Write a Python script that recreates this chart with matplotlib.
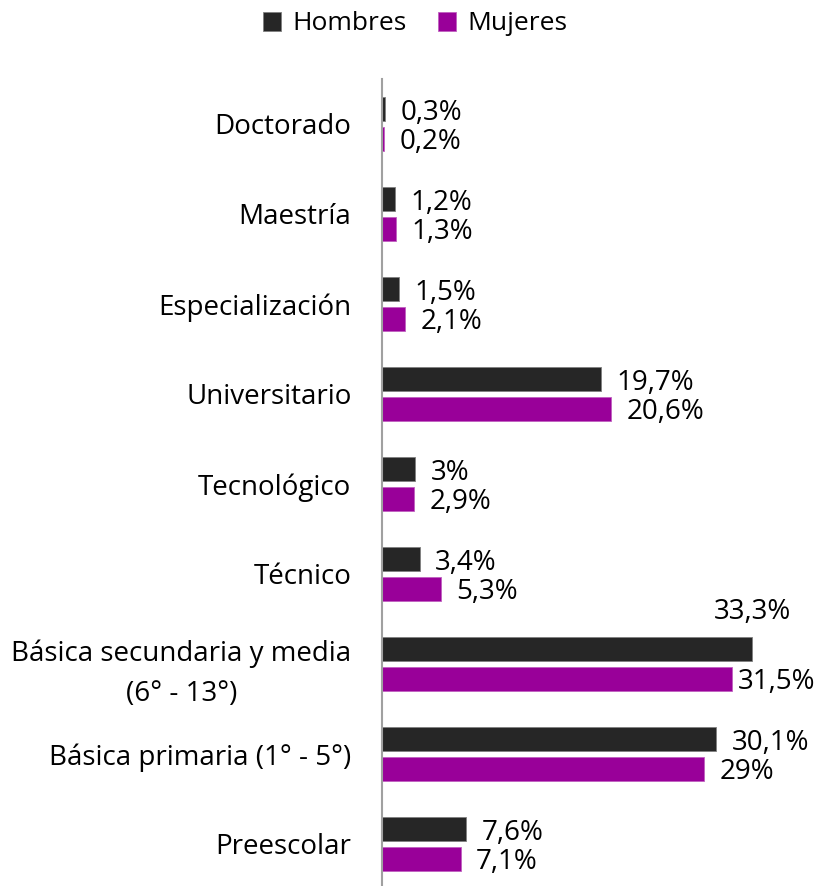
import numpy as np
import matplotlib.pyplot as plt

plt.rcParams['font.family'] = ['Open Sans', 'DejaVu Sans']

categorias = ["Doctorado", "Maestría", "Especialización", "Universitario",
              "Tecnológico", "Técnico", "Básica secundaria y media\n(6° - 13°)",
              "Básica primaria (1° - 5°)", "Preescolar"]
hombres = [0.3, 1.2, 1.5, 19.7, 3.0, 3.4, 33.3, 30.1, 7.6]
mujeres = [0.2, 1.3, 2.1, 20.6, 2.9, 5.3, 31.5, 29.0, 7.1]
etiq_h = ["0,3%", "1,2%", "1,5%", "19,7%", "3%", "3,4%", "33,3%", "30,1%", "7,6%"]
etiq_m = ["0,2%", "1,3%", "2,1%", "20,6%", "2,9%", "5,3%", "31,5%", "29%", "7,1%"]

c_h = "#262626"
c_m = "#990099"

fig = plt.figure(figsize=(8.21, 8.86), dpi=100)
ax = fig.add_axes([382 / 821, 0, 1 - 382 / 821, 1 - 79 / 886])

n = len(categorias)
y = np.arange(n)[::-1]
h = 0.267
off = 0.167

bh = ax.barh(y + off, hombres, height=h, color=c_h, edgecolor="#7f7f7f",
             linewidth=0.6, label="Hombres")
bm = ax.barh(y - off, mujeres, height=h, color=c_m, edgecolor="#c060c0",
             linewidth=0.6, label="Mujeres")

fs = 20
for i in range(n):
    if etiq_h[i] == "33,3%":
        # no cabe a la derecha: va encima de la barra
        ax.annotate(etiq_h[i], (hombres[i], y[i] + off + h / 2), xytext=(0, 8),
                    textcoords="offset points", ha="center", va="bottom", fontsize=fs)
    else:
        ax.annotate(etiq_h[i], (hombres[i], y[i] + off), xytext=(11, -3),
                    textcoords="offset points", ha="left", va="center", fontsize=fs)
    dx = 4 if mujeres[i] > 31 else 11
    ax.annotate(etiq_m[i], (mujeres[i], y[i] - off), xytext=(dx, -2),
                textcoords="offset points", ha="left", va="center", fontsize=fs)

ax.set_xlim(0, 439 / 11.11)
ax.set_ylim(-0.467, 8.5)
ax.set_yticks(y)
ax.set_yticklabels(categorias, fontsize=fs, multialignment="center",
                   linespacing=1.6)
ax.tick_params(axis="y", length=0, pad=22)
ax.set_xticks([])
for s in ["top", "right", "bottom"]:
    ax.spines[s].set_visible(False)
ax.spines["left"].set_color("#a0a0a0")
ax.spines["left"].set_linewidth(1.5)

fig.legend(handles=[bh, bm], loc="center", bbox_to_anchor=(415 / 821, 1 - 24 / 886),
           ncol=2, frameon=False, fontsize=19, handlelength=0.7, handleheight=0.7,
           handletextpad=0.4, columnspacing=1.2)

plt.savefig("out.png", dpi=100)
